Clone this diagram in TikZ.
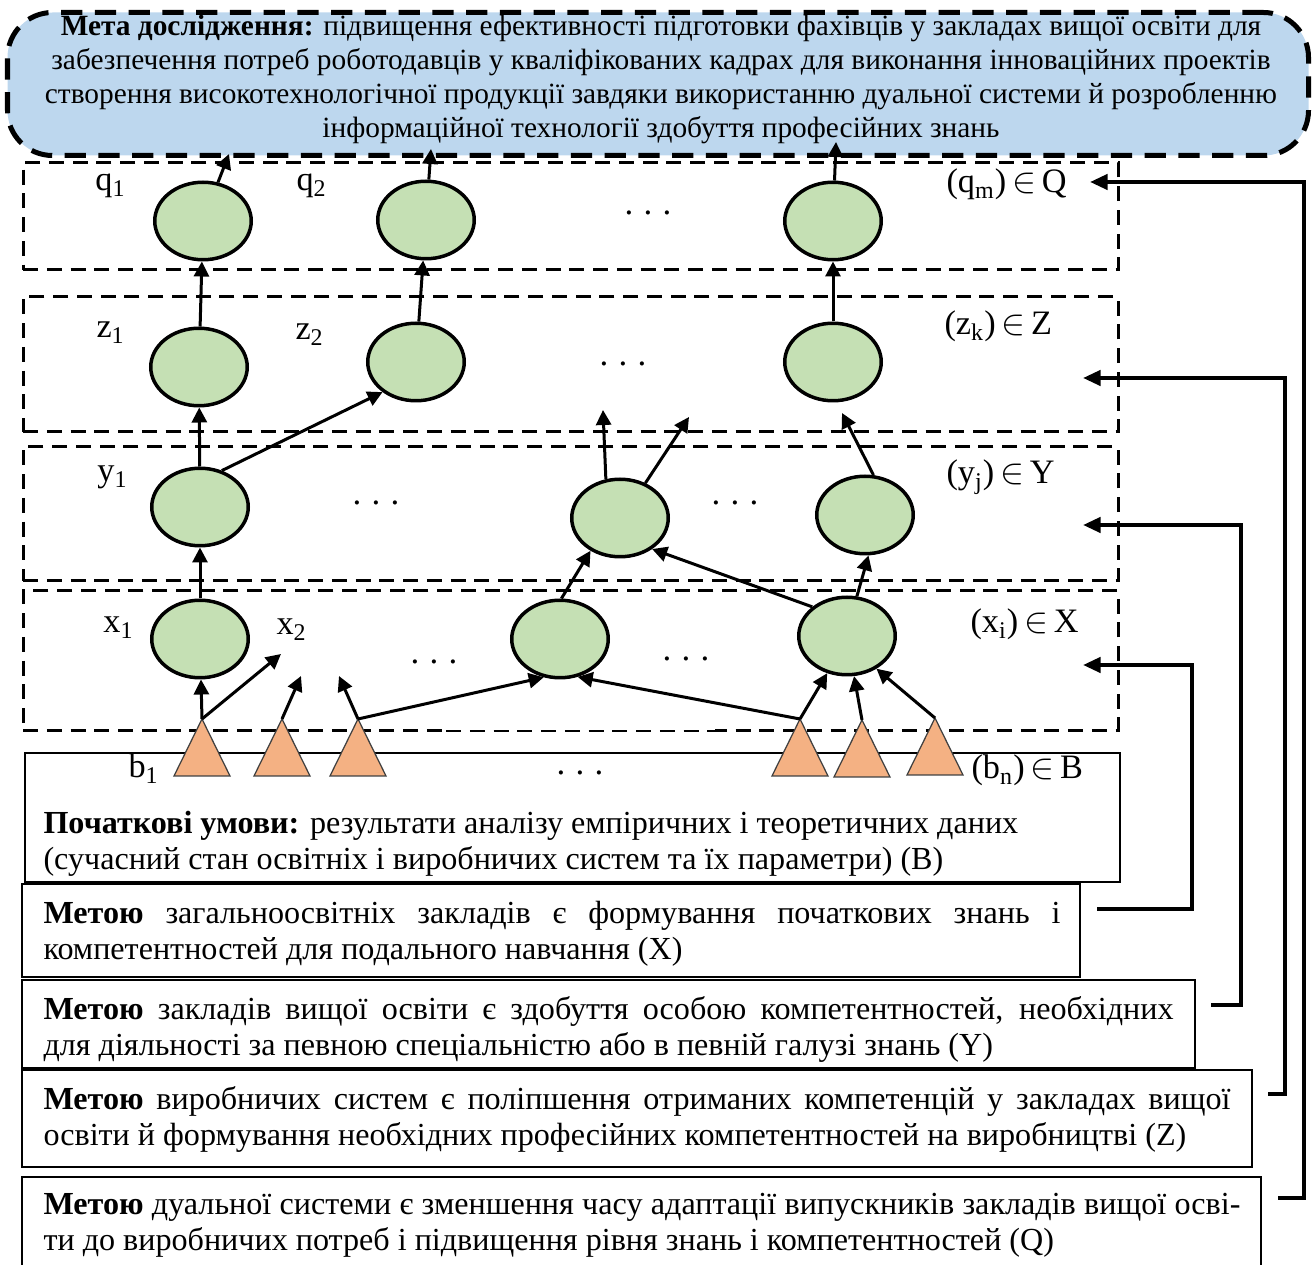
\documentclass[tikz,border=0pt]{standalone}
\usepackage{fontspec}
\setmainfont{Liberation Serif}
\usetikzlibrary{arrows.meta,shapes.geometric}

\definecolor{goalfill}{RGB}{189,215,238}
\definecolor{elemfill}{RGB}{197,224,180}
\definecolor{srcfill}{RGB}{244,177,131}

\newcommand\sublab[2]{#1\textsubscript{#2}}
\newcommand\setlab[3]{(#1\textsubscript{#2})\,$\in$\,#3}
\newcommand\spdots{.\hspace{4.1pt}.\hspace{4.1pt}.}

\tikzset{
  layer/.style={draw, line width=1.2pt, dash pattern=on 6pt off 3.5pt,
    inner sep=0, outer sep=0, anchor=north west},
  txtbox/.style={draw, line width=1pt, inner sep=0, outer sep=0, anchor=north west},
  elem/.style={ellipse, draw, line width=1.4pt, fill=elemfill,
    minimum width=38.6pt, minimum height=31pt, inner sep=0},
  src/.style={isosceles triangle, isosceles triangle stretches, shape border rotate=90,
    draw=black!75, line width=0.5pt, fill=srcfill,
    minimum width=22.4pt, minimum height=22.8pt, inner sep=0, outer sep=0, anchor=apex},
  link/.style={line width=1.2pt, -{Triangle[length=6pt,width=6pt]}},
  fb/.style={line width=1.6pt, -{Triangle[length=7pt,width=6pt]}},
  lbl/.style={font=\fontsize{13.7}{14}\selectfont, inner sep=0, anchor=base west},
  dots/.style={font=\fontsize{14}{14}\selectfont, inner sep=0, anchor=base},
  body/.style={font=\fontsize{12.85}{14.4}\selectfont, inner sep=0, anchor=base west},
}

\begin{document}
\begin{tikzpicture}[x=0.4pt,y=-0.4pt]
\useasboundingbox (0,0) rectangle (1316,1265);

% goal of the study
\node[draw, line width=2pt, dash pattern=on 8.5pt off 5pt, rounded corners=18pt,
  fill=goalfill, minimum width=520.4pt, minimum height=57.2pt, inner sep=0,
  outer sep=0, anchor=north west] (goal) at (7.5,12.5) {};
\node[font=\fontsize{11.75}{13.6}\selectfont, inner sep=0, anchor=base] (goaltext) at (661,36)
  {\parbox[t]{520pt}{\centering
   \textbf{Мета дослідження:} підвищення ефективності підготовки фахівців у закладах вищої освіти для\\
   забезпечення потреб роботодавців у кваліфікованих кадрах для виконання інноваційних проектів\\
   створення високотехнологічної продукції завдяки використанню дуальної системи й розробленню\\
   інформаційної технології здобуття професійних знань}};

% layers
\node[layer, minimum width=438pt, minimum height=42.8pt] (LQ) at (23,163) {};
\node[layer, minimum width=438pt, minimum height=54pt]   (LZ) at (23,297) {};
\node[layer, minimum width=438pt, minimum height=53.6pt] (LY) at (23,447) {};
\node[layer, minimum width=438pt, minimum height=55.6pt] (LX) at (23,591) {};
\draw[white, line width=1.8pt] (446,730) -- (715,730);
\draw[line width=0.6pt, dash pattern=on 6pt off 3.5pt] (446,731) -- (715,731);

% text boxes
\node[txtbox, line width=0.6pt, minimum width=438pt, minimum height=51.6pt] (boxB) at (25,753) {};
\node[txtbox, minimum width=423.2pt, minimum height=37.2pt] (boxX) at (22,884) {};
\node[txtbox, minimum width=469.2pt, minimum height=35.2pt] (boxY) at (22,980) {};
\node[txtbox, minimum width=492pt, minimum height=38.8pt] (boxZ) at (22,1070) {};
\node[txtbox, minimum width=495.6pt, minimum height=39.2pt] (boxQ) at (22,1177) {};

\node[body] (textB) at (43,834) {\parbox[t]{430pt}{%
  \textbf{Початкові умови:} результати аналізу емпіричних і теоретичних даних\\
  (сучасний стан освітніх і виробничих систем та їх параметри) (B)}};
\node[body] (textX) at (43,924) {\parbox[t]{420pt}{%
  \makebox[406.8pt][s]{\textbf{Метою} загальноосвітніх закладів є формування початкових знань і}\\
  компетентностей для подального навчання (X)}};
\node[body] (textY) at (43,1020) {\parbox[t]{460pt}{%
  \makebox[452pt][s]{\textbf{Метою} закладів вищої освіти є здобуття особою компетентностей, необхідних}\\
  для діяльності за певною спеціальністю або в певній галузі знань (Y)}};
\node[body] (textZ) at (43,1109) {\parbox[t]{480pt}{%
  \makebox[474.8pt][s]{\textbf{Метою} виробничих систем є поліпшення отриманих компетенцій у закладах вищої}\\
  освіти й формування необхідних професійних компетентностей на виробництві (Z)}};
\node[body] (textQ) at (43,1215) {\parbox[t]{485pt}{%
  \makebox[478.8pt][s]{\textbf{Метою} дуальної системи є зменшення часу адаптації випускників закладів вищої осві-}\\
  ти до виробничих потреб і підвищення рівня знань і компетентностей (Q)}};

% feedback connectors
\coordinate (fxs) at (1097,909);  \coordinate (fxc) at (1192,665);  \coordinate (fxe) at (1083,665);
\coordinate (fys) at (1211,1005); \coordinate (fyc) at (1241,525);  \coordinate (fye) at (1083,525);
\coordinate (fzs) at (1268,1094); \coordinate (fzc) at (1285,378);  \coordinate (fze) at (1083,378);
\coordinate (fqs) at (1278,1198); \coordinate (fqc) at (1304,182);  \coordinate (fqe) at (1090,182);
\draw[fb] (fxs) -| (fxc) -- (fxe);
\draw[fb] (fys) -| (fyc) -- (fye);
\draw[fb] (fzs) -| (fzc) -- (fze);
\draw[fb] (fqs) -| (fqc) -- (fqe);

% elements
\node[elem] (q1) at (203,221) {};
\node[elem] (q2) at (426,220) {};
\node[elem] (qm) at (833,221) {};
\node[elem] (z1) at (199,367) {};
\node[elem] (z2) at (416,362) {};
\node[elem] (zk) at (833,362) {};
\node[elem] (y1) at (200,507) {};
\node[elem] (ym) at (620,518) {};
\node[elem] (yj) at (865,515) {};
\node[elem] (x1) at (200,639) {};
\node[elem] (xm) at (560,639) {};
\node[elem] (xi) at (847,636) {};

% initial conditions
\node[src] (t1) at (202,719) {};
\node[src] (t2) at (282,719) {};
\node[src] (t3) at (358,719) {};
\node[src] (t4) at (800,719) {};
\node[src] (t5) at (862,720) {};
\node[src] (t6) at (935,718) {};

% free arrow ends
\coordinate (g1) at (229,154);
\coordinate (g2) at (431,149);
\coordinate (g3) at (836,142);
\coordinate (ya) at (603,410);
\coordinate (yb) at (689,417);
\coordinate (zin) at (842,413);
\coordinate (xa) at (281,654);
\coordinate (xb) at (301,676);
\coordinate (xc) at (339,676);

% links
\draw[link] (q1) -- (g1);
\draw[link] (q2) -- (g2);
\draw[link] (qm) -- (g3);
\draw[link] (z1) -- (q1);
\draw[link] (z2) -- (q2);
\draw[link] (zk) -- (qm);
\draw[link] (y1) -- (z1);
\draw[link] (y1.59) -- (z2.222);
\draw[link] (ym.110) -- (ya);
\draw[link] (ym.54) -- (yb);
\draw[link] (yj.78) -- (zin);
\draw[link] (x1) -- (y1);
\draw[link] (xm.88) -- (ym.228);
\draw[link] (xi.140) -- (ym.316);
\draw[link] (xi.76) -- (yj.275);
\draw[link] (t1.apex) -- (x1);
\draw[link] (t1.apex) -- (xa);
\draw[link] (t2.apex) -- (xb);
\draw[link] (t3.apex) -- (xc);
\draw[link] (t3.apex) -- (xm.247);
\draw[link] (t4.apex) -- (xm.295);
\draw[link] (t4.apex) -- (xi.242);
\draw[link] (t5.apex) -- (xi.280);
\draw[link] (t6.apex) -- (xi.312);

% labels
\node[lbl] (lq1) at (95,191)  {\sublab{q}{1}};
\node[lbl] (lq2) at (296,191) {\sublab{q}{2}};
\node[lbl] (lz1) at (96,338)  {\sublab{z}{1}};
\node[lbl] (lz2) at (295,340) {\sublab{z}{2}};
\node[lbl] (ly1) at (97,482)  {\sublab{y}{1}};
\node[lbl] (lx1) at (103,633) {\sublab{x}{1}};
\node[lbl] (lx2) at (276,635) {\sublab{x}{2}};
\node[lbl] (lb1) at (128,778) {\sublab{b}{1}};
\node[lbl] (sQ) at (946,193) {\setlab{q}{m}{Q}};
\node[lbl] (sZ) at (944,335) {\setlab{z}{k}{Z}};
\node[lbl] (sY) at (946,484) {\setlab{y}{j}{Y}};
\node[lbl] (sX) at (970,633) {\setlab{x}{i}{X}};
\node[lbl] (sB) at (971,779) {\setlab{b}{n}{B}};

\node[dots] (dq)  at (648,215) {\spdots};
\node[dots] (dz)  at (623,366) {\spdots};
\node[dots] (dy1) at (376,505) {\spdots};
\node[dots] (dy2) at (735,505) {\spdots};
\node[dots] (dx1) at (434,664) {\spdots};
\node[dots] (dx2) at (686,661) {\spdots};
\node[dots] (db)  at (580,775) {\spdots};
\end{tikzpicture}
\end{document}
